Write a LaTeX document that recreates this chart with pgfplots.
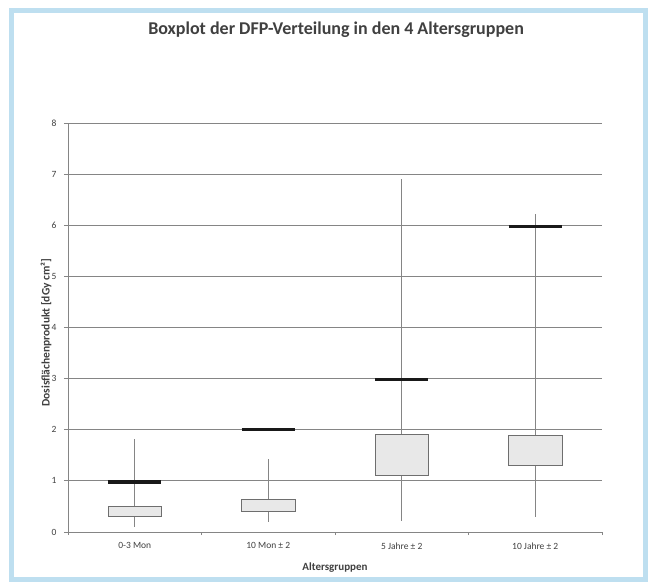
\documentclass[border=0pt]{standalone}
\usepackage{fontspec}
\setmainfont{Carlito}
\usepackage{pgfplots}
\pgfplotsset{compat=1.18}
\usepgfplotslibrary{statistics}

\definecolor{rahmen}{HTML}{BEDFF0}
\definecolor{gitter}{HTML}{858585}
\definecolor{boxrand}{HTML}{6E6E6E}
\definecolor{boxfill}{HTML}{E8E8E8}
\definecolor{schrift}{HTML}{404040}

\begin{document}
\begin{tikzpicture}[x=1pt,y=1pt]
\useasboundingbox (0,0) rectangle (648,-582);
\fill[white] (0,0) rectangle (648,-582);
\begin{axis}[
    at={(68pt,-532pt)}, anchor=south west,
    scale only axis, width=534pt, height=409pt,
    xmin=0, xmax=4, ymin=0, ymax=8,
    axis lines=left,
    axis line style={gitter, line width=0.8pt, -},
    ymajorgrids=true,
    grid style={gitter, line width=0.8pt},
    tick align=outside,
    tick style={gitter, line width=0.8pt},
    ytick={0,1,2,3,4,5,6,7,8},
    major tick length=4pt,
    xtick={0.5,1.5,2.5,3.5},
    xticklabels={0-3 Mon, 10 Mon ± 2, 5 Jahre ± 2, 10 Jahre ± 2},
    major x tick style={draw=none},
    minor xtick={0,1,2,3,4},
    minor tick length=3pt,
    /pgf/number format/assume math mode=true,
    ticklabel style={font=\fontsize{9.5}{11}\selectfont, text=schrift},
    xticklabel style={yshift=-3pt},
    yticklabel style={xshift=-4pt},
    title={Boxplot der DFP-Verteilung in den 4 Altersgruppen},
    title style={font=\bfseries\fontsize{18}{21}\selectfont, text=schrift,
        at={(axis description cs:0.502,1.213)}, anchor=center},
    xlabel={Altersgruppen},
    xlabel style={font=\bfseries\fontsize{11}{13}\selectfont, text=schrift,
        at={(axis description cs:0.5,-0.088)}, anchor=center},
    ylabel={Dosisflächenprodukt [dGy cm²]},
    ylabel style={font=\bfseries\fontsize{11.5}{13}\selectfont, text=schrift,
        at={(axis description cs:-0.041,0.487)}, anchor=center},
    boxplot/draw direction=y,
    boxplot/box extend=0.4,
    boxplot/whisker extend=0,
    boxplot/every whisker/.style={gitter, line width=0.8pt},
    boxplot/every box/.style={draw=boxrand, fill=boxfill, line width=0.8pt},
    boxplot/every median/.style={black!90, line width=3.2pt},
]
% 0-3 Mon
\addplot[boxplot prepared={draw position=0.5,
    lower whisker=0.10, lower quartile=0.30, median=0.98,
    upper quartile=0.51, upper whisker=1.81}] coordinates {};
% 10 Mon +- 2
\addplot[boxplot prepared={draw position=1.5,
    lower whisker=0.20, lower quartile=0.40, median=2.00,
    upper quartile=0.64, upper whisker=1.42}] coordinates {};
% 5 Jahre +- 2
\addplot[boxplot prepared={draw position=2.5,
    lower whisker=0.22, lower quartile=1.10, median=2.99,
    upper quartile=1.90, upper whisker=6.90}] coordinates {};
% 10 Jahre +- 2
\addplot[boxplot prepared={draw position=3.5,
    lower whisker=0.30, lower quartile=1.30, median=5.97,
    upper quartile=1.88, upper whisker=6.22}] coordinates {};
\end{axis}
\draw[rahmen, line width=5pt] (11.5,-10) rectangle (645.5,-579.5);
\end{tikzpicture}
\end{document}
